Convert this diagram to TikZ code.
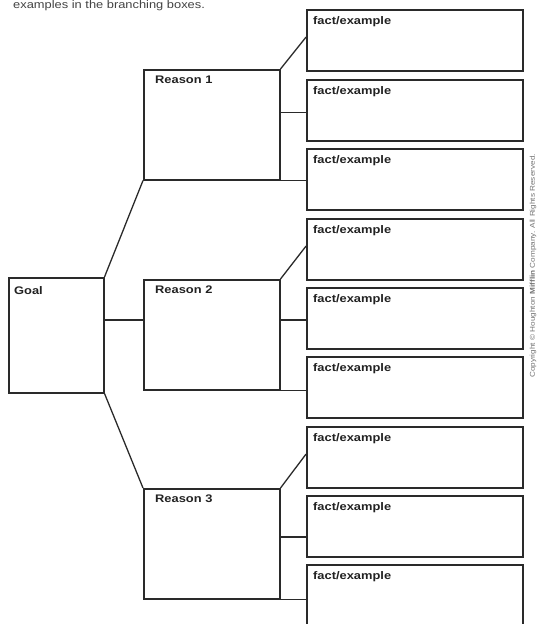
\documentclass[tikz,border=0pt]{standalone}
\usepackage{fontspec}
\usepackage{graphicx}
\setmainfont{Liberation Sans}
\usetikzlibrary{calc}
\definecolor{ink}{HTML}{2A2A2A}
\definecolor{txt}{HTML}{222222}
\newcommand{\wide}[1]{\scalebox{1.17}[1]{#1}}
\tikzset{
  box/.style={draw=ink, line width=1.5pt, inner sep=0pt, anchor=north west},
  goalbox/.style={box, minimum width=95pt, minimum height=115pt},
  reasonbox/.style={box, minimum width=136pt, minimum height=110pt},
  factbox/.style={box, minimum width=216pt, minimum height=61pt},
  tag/.style={inner sep=0pt, anchor=north west, text=txt,
    font=\fontsize{11}{13}\selectfont\bfseries},
  link/.style={draw=ink, line width=1.3pt},
}
\begin{document}
\begin{tikzpicture}[x=1pt, y=-1pt]
\useasboundingbox (0,0) rectangle (537,624);

% heading line (partly cut off)
\node[anchor=base west, inner sep=0pt, text=txt!85,
  font=\fontsize{11}{13}\selectfont] (head) at (13,8)
  {\wide{examples in the branching boxes.}};

% goal and reasons
\node[goalbox] (goal) at (8,277) {};
\node[tag] (goal-t) at ($(goal.north west)+(6,9)$) {\wide{Goal}};

\node[reasonbox] (r1) at (143,69) {};
\node[reasonbox] (r2) at (143,279) {};
\node[reasonbox] (r3) at (143,488) {};
\foreach \i in {1,2,3}
  \node[tag] (r\i-t) at ($(r\i.north west)+(12,7)$) {\wide{Reason \i}};

% fact/example boxes
\foreach \i/\y in {1/9,2/79,3/148,4/218,5/287,6/356,7/426,8/495,9/564} {
  \node[factbox] (f\i) at (306,\y) {};
  \node[tag] (f\i-t) at ($(f\i.north west)+(7,7)$) {\wide{fact/example}};
}

% goal to reasons
\coordinate (g-mid) at (103,320);
\draw[link] (goal.north east) -- (r1.south west);
\draw[link] (g-mid) -- (g-mid -| r2.west);
\draw[link] (goal.south east) -- (r3.north west);

% reasons to facts
\coordinate (m1) at (279,112.5);
\coordinate (m2) at (279,320);
\coordinate (m3) at (279,537);
\foreach \r/\a/\b/\c in {1/1/2/3, 2/4/5/6, 3/7/8/9} {
  \draw[link] (r\r.north east) -- ($(f\a.north west)!0.45!(f\a.south west)$);
  \draw[link] (m\r) -- (m\r -| f\b.west);
  \draw[link] (r\r.south east) -- (r\r.south east -| f\c.west);
}

% vertical credit line
\node[rotate=90, inner sep=0pt, text=black!55,
  font=\fontsize{7}{8}\selectfont] (credit) at (533,266)
  {\wide{Copyright \textcopyright\ Houghton \textbf{Mifflin} Company. All Rights Reserved.}};
\end{tikzpicture}
\end{document}
